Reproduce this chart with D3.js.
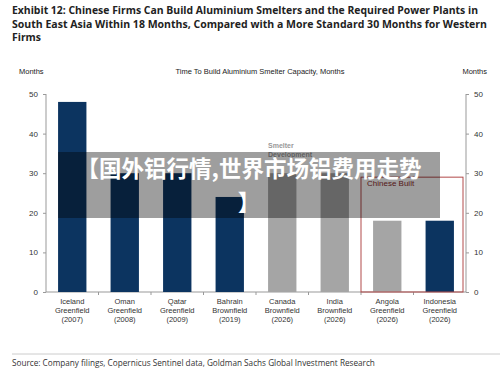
<!DOCTYPE html>
<meta charset="utf-8">
<style>
body { margin: 0; background: #fff; }
svg { display: block; }
.ax text { font-family: "Liberation Sans", Arial, sans-serif; font-size: 8px; fill: #333; }
.ax path, .ax line { stroke: #999; }
</style>
<svg width="500" height="372"></svg>
<script src="https://d3js.org/d3.v7.min.js"></script>
<script>

// data
var sites = ["Iceland", "Oman", "Qatar", "Bahrain", "Canada", "India", "Angola", "Indonesia"];
var kinds = ["Greenfield", "Greenfield", "Greenfield", "Brownfield", "Brownfield", "Brownfield", "Greenfield", "Greenfield"];
var years = ["2007", "2008", "2009", "2019", "2026", "2026", "2026", "2026"];
var months = [48, 30, 30, 24, 30, 30, 18, 18];
var chineseBuilt = [false, false, false, false, false, false, true, true];
var planned = [false, false, false, false, true, true, true, false];
var yTicks = [0, 10, 20, 30, 40, 50];
var boxLevel = 29;

var titleLines = [
  "Exhibit 12: Chinese Firms Can Build Aluminium Smelters and the Required Power Plants in",
  "South East Asia Within 18 Months, Compared with a More Standard 30 Months for Western",
  "Firms"
];
var titleWidths = [466, 475, 29];

var svg = d3.select("svg");

var x = d3.scaleBand()
    .domain(sites)
    .range([46, 466])
    .paddingInner(0.46)
    .paddingOuter(0.23);

var y = d3.scaleLinear()
    .domain([0, 50])
    .range([292, 94]);

// title
svg.append("text")
    .attr("font-family", "'Open Sans', sans-serif")
    .attr("font-weight", "bold")
    .attr("font-size", 11)
    .attr("fill", "#222")
  .selectAll("tspan")
  .data(titleLines)
  .enter().append("tspan")
    .attr("x", 12)
    .attr("y", (d, i) => 14 + i * 13.5)
    .attr("textLength", (d, i) => titleWidths[i])
    .attr("lengthAdjust", "spacingAndGlyphs")
    .text(d => d);

// header labels
var hdr = svg.append("g")
    .attr("font-family", "'Liberation Sans', Arial, sans-serif")
    .attr("font-size", 7.5)
    .attr("fill", "#222");
hdr.append("text").attr("x", 19).attr("y", 74).text("Months");
hdr.append("text").attr("x", 487).attr("y", 74).attr("text-anchor", "end").text("Months");
hdr.append("text").attr("x", 260).attr("y", 74).attr("text-anchor", "middle")
    .text("Time To Build Aluminium Smelter Capacity, Months");

// axes
svg.append("g")
    .attr("class", "ax")
    .attr("transform", "translate(46,0)")
    .call(d3.axisLeft(y).tickValues(yTicks).tickSize(3).tickPadding(5))
  .select(".domain").attr("d", "M0," + y(50) + "V" + y(0));

svg.append("g")
    .attr("class", "ax")
    .attr("transform", "translate(466,0)")
    .call(d3.axisRight(y).tickValues(yTicks).tickSize(3).tickPadding(5))
  .select(".domain").attr("d", "M0," + y(50) + "V" + y(0));

// bottom axis with ticks between categories
var bot = svg.append("g").attr("class", "ax");
bot.append("line")
    .attr("x1", 46).attr("x2", 466)
    .attr("y1", y(0)).attr("y2", y(0));
bot.selectAll(".sep")
  .data(sites.slice(1))
  .enter().append("line")
    .attr("class", "sep")
    .attr("x1", d => x(d) - x.step() * x.paddingInner() / 2)
    .attr("x2", d => x(d) - x.step() * x.paddingInner() / 2)
    .attr("y1", y(0)).attr("y2", y(0) + 3);

// bars
svg.append("g")
  .selectAll("rect")
  .data(sites)
  .enter().append("rect")
    .attr("x", d => x(d))
    .attr("width", x.bandwidth())
    .attr("y", (d, i) => y(months[i]))
    .attr("height", (d, i) => y(0) - y(months[i]))
    .attr("fill", (d, i) => planned[i] ? "#a5a5a5" : "#0c3460");

// category labels
var lab = svg.append("g")
    .attr("font-family", "'Liberation Sans', Arial, sans-serif")
    .attr("font-size", 7.5)
    .attr("fill", "#333")
    .attr("text-anchor", "middle");
sites.forEach(function(s, i) {
  var t = lab.append("text");
  [s, kinds[i], "(" + years[i] + ")"].forEach(function(line, j) {
    t.append("tspan")
        .attr("x", x(s) + x.bandwidth() / 2)
        .attr("y", 304 + j * 9)
        .text(line);
  });
});

// smelter development note
var note = svg.append("text")
    .attr("font-family", "'Liberation Sans', Arial, sans-serif")
    .attr("font-size", 7)
    .attr("font-weight", "bold")
    .attr("fill", "#999");
note.append("tspan").attr("x", x("Canada")).attr("y", y(36.4)).text("Smelter");
note.append("tspan").attr("x", x("Canada")).attr("y", y(34.1)).text("Development");

// chinese built box
var cb = sites.filter((d, i) => chineseBuilt[i]);
var bx0 = x(cb[0]) - x.step() * x.paddingInner() / 2;
var bx1 = 463;
svg.append("rect")
    .attr("x", bx0)
    .attr("y", y(boxLevel))
    .attr("width", bx1 - bx0)
    .attr("height", y(0) - y(boxLevel))
    .attr("fill", "none")
    .attr("stroke", "#b24a4a")
    .attr("stroke-width", 1);
svg.append("text")
    .attr("x", bx0 + 6)
    .attr("y", y(26.8))
    .attr("font-family", "'Liberation Sans', Arial, sans-serif")
    .attr("font-size", 8)
    .attr("fill", "#8a2a2a")
    .text("Chinese Built");

// footer
svg.append("line")
    .attr("x1", 12).attr("x2", 500)
    .attr("y1", 354).attr("y2", 354)
    .attr("stroke", "#ccc");
svg.append("text")
    .attr("x", 12).attr("y", 366)
    .attr("font-family", "'Open Sans', sans-serif")
    .attr("font-size", 8.2)
    .attr("fill", "#333")
    .text("Source: Company filings, Copernicus Sentinel data, Goldman Sachs Global Investment Research");

// overlay banner
svg.append("rect")
    .attr("x", 58).attr("y", 152)
    .attr("width", 382).attr("height", 66)
    .attr("fill", "rgba(0,0,0,0.38)");
var ban = svg.append("text")
    .attr("font-family", "'Noto Sans CJK SC', sans-serif")
    .attr("font-weight", "bold")
    .attr("font-size", 22.5)
    .attr("fill", "#fff")
    .attr("text-anchor", "middle");
ban.append("tspan").attr("x", 249).attr("y", 177).text("【国外铝行情,世界市场铝费用走势");
ban.append("tspan").attr("x", 249).attr("y", 211).text("】");

</script>
